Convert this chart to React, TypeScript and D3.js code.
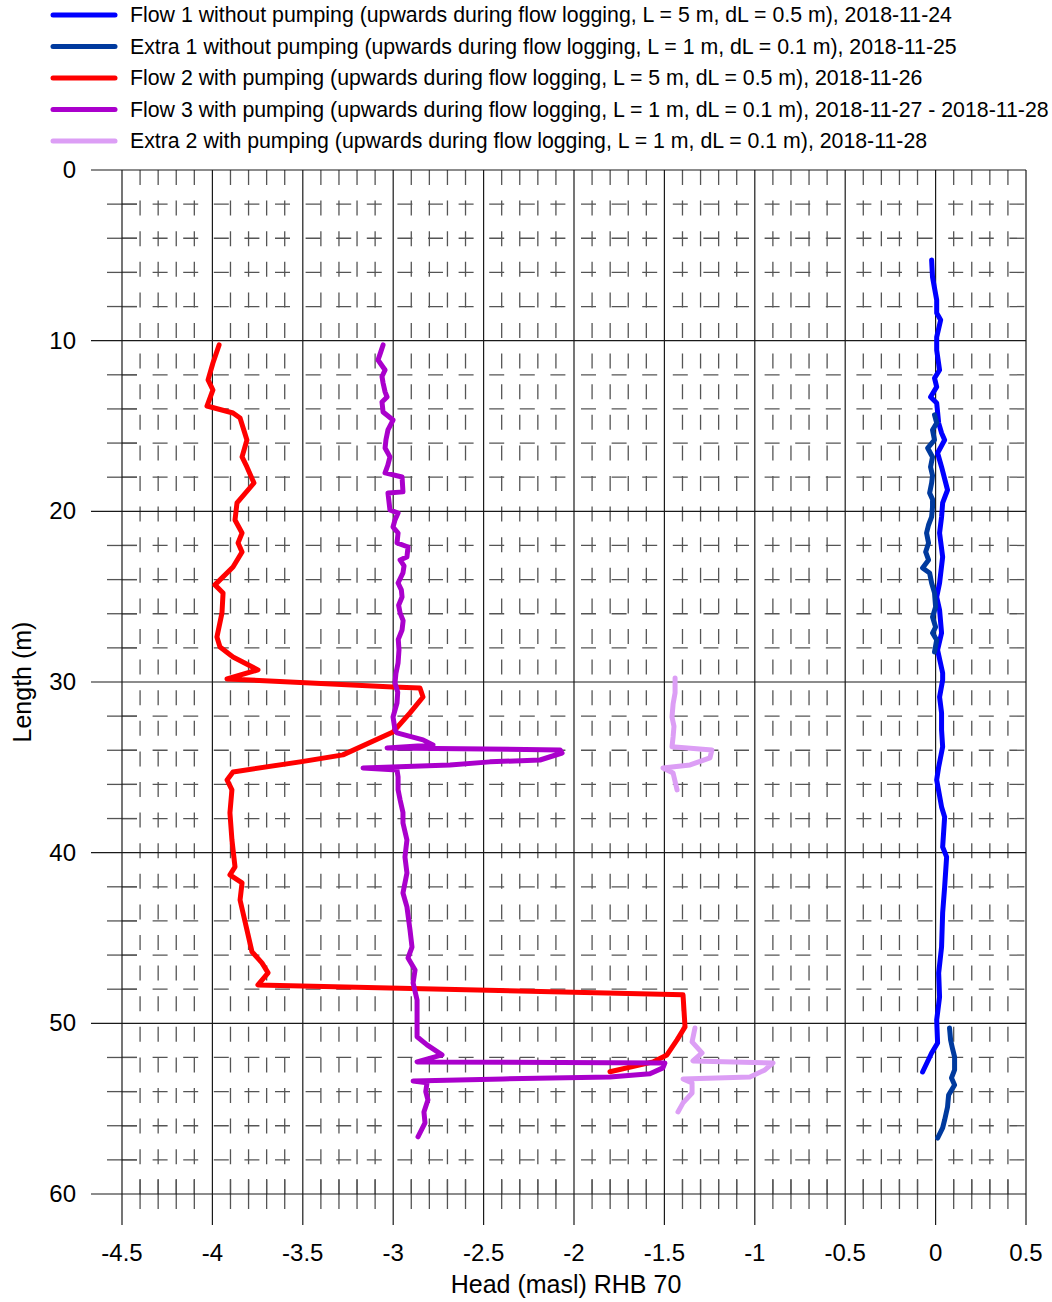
import React from 'react';
import * as d3 from 'd3';

// [length (m), head (masl)] ; null marks a gap between logging runs
type Pt = [number, number] | null;

const flow1: Pt[] = [
  [5.27, -0.022], [6.27, -0.017], [7.62, 0.006], [8.38, 0.006], [8.79, 0.028], [9.79, 0.006],
  [10.55, 0.006], [11.72, 0.022], [12.19, -0.006], [12.71, 0.006], [13.3, -0.028], [13.65, 0.006],
  [14.83, 0.017], [15.41, 0.033], [15.82, 0.05], [16.58, 0.011], [17.4, 0.033], [18.75, 0.066],
  [19.51, 0.039], [20.33, 0.033], [21.27, 0.022], [22.67, 0.039], [24.2, 0.022], [25.02, 0.006],
  [25.78, 0.022], [27.13, 0.033], [28.12, 0.011], [29.47, 0.039], [29.88, 0.039], [30.88, 0.022],
  [31.81, 0.033], [32.81, 0.033], [33.8, 0.039], [34.98, 0.017], [35.74, 0.006], [37.32, 0.033],
  [37.91, 0.05], [39.67, 0.039], [40.25, 0.061], [42.01, 0.05], [43.53, 0.039], [45.53, 0.033],
  [47.05, 0.017], [48.46, 0.022], [49.8, 0.006], [51.15, 0.011], [51.74, -0.022], [52.85, -0.072],
];

const extra1: Pt[] = [
  [14.35, -0.006], [14.82, 0.006], [15.23, -0.017], [15.82, -0.006], [16.29, -0.044], [16.82, -0.017],
  [17.4, -0.028], [17.9, -0.017], [18.34, -0.022], [18.92, -0.033], [19.3, -0.017], [19.75, -0.017],
  [20.33, -0.022], [20.8, -0.039], [21.27, -0.05], [21.85, -0.039], [22.38, -0.055], [22.85, -0.039],
  [23.32, -0.072], [23.61, -0.033], [24.2, -0.022], [24.78, -0.006], [25.6, 0.0], [26.19, -0.017],
  [26.78, 0.0], [27.13, -0.017], [27.54, 0.006], [28.24, -0.006],
  null,
  [50.27, 0.077], [50.98, 0.083], [51.5, 0.094], [51.97, 0.105], [52.73, 0.105], [53.2, 0.088],
  [53.61, 0.105], [54.2, 0.072], [54.9, 0.066], [55.66, 0.05], [56.13, 0.039], [56.72, 0.011],
];

const flow2: Pt[] = [
  [10.25, -3.963], [11.31, -3.997], [12.3, -4.024], [12.89, -3.997], [13.83, -4.03], [14.24, -3.886],
  [14.53, -3.847], [15.82, -3.809], [16.81, -3.836], [17.4, -3.809], [18.34, -3.77], [19.51, -3.864],
  [20.51, -3.875], [21.27, -3.836], [21.85, -3.858], [22.38, -3.836], [23.26, -3.886], [24.31, -3.986],
  [24.78, -3.941], [25.95, -3.947], [27.36, -3.975], [27.95, -3.958], [28.53, -3.886], [29.29, -3.748],
  [29.82, -3.919], [30.29, -3.001], [30.35, -2.852], [30.88, -2.835], [31.81, -2.907], [32.93, -3.001],
  [34.27, -3.278], [34.68, -3.515], [35.27, -3.886], [35.74, -3.919], [36.32, -3.892], [37.67, -3.903],
  [39.25, -3.892], [40.83, -3.875], [41.3, -3.903], [41.77, -3.836], [42.77, -3.847], [45.81, -3.781],
  [46.46, -3.726], [47.04, -3.692], [47.75, -3.748], [48.33, -1.397], [50.21, -1.386], [50.97, -1.43],
  [51.85, -1.486], [52.26, -1.563], [52.84, -1.801],
];

const flow3: Pt[] = [
  [10.25, -3.056], [10.7, -3.07], [11.13, -3.084], [11.72, -3.045], [12.1, -3.062], [12.48, -3.056],
  [13.0, -3.045], [13.3, -3.034], [13.59, -3.062], [14.18, -3.056], [14.65, -3.001], [15.23, -3.029],
  [15.8, -3.04], [16.29, -3.045], [16.81, -3.018], [17.3, -3.03], [17.75, -3.045], [17.99, -2.951],
  [18.86, -2.946], [18.92, -3.029], [19.92, -3.018], [20.1, -2.973], [20.5, -2.99], [20.92, -3.001],
  [21.27, -2.973], [21.85, -2.979], [22.09, -2.918], [22.67, -2.924], [22.85, -2.962], [23.2, -2.94],
  [23.61, -2.946], [24.2, -2.973], [24.6, -2.955], [25.02, -2.951], [25.5, -2.97], [25.95, -2.962],
  [26.4, -2.945], [26.95, -2.951], [27.5, -2.972], [28.12, -2.968], [28.88, -2.973], [29.5, -2.985],
  [30.05, -2.99], [30.6, -2.975], [31.23, -2.979], [32.05, -3.001], [32.81, -2.99], [32.98, -2.979],
  [33.39, -2.835], [33.69, -2.78], [33.86, -3.034], [33.98, -2.077], [34.16, -2.066], [34.57, -2.188],
  [34.68, -2.465], [34.86, -2.686], [35.04, -3.167], [35.15, -2.979], [35.56, -2.973], [36.32, -2.973],
  [36.9, -2.962], [37.65, -2.946], [38.26, -2.946], [39.26, -2.924], [40.25, -2.935], [41.19, -2.924],
  [42.36, -2.946], [43.18, -2.924], [44.53, -2.907], [45.53, -2.896], [46.17, -2.918], [46.87, -2.879],
  [47.63, -2.89], [48.63, -2.868], [49.98, -2.868], [50.79, -2.868], [51.26, -2.813], [51.85, -2.73],
  [52.26, -2.868], [52.32, -1.497], [52.61, -1.508], [52.96, -1.58], [53.14, -1.801], [53.26, -2.393],
  [53.38, -2.89], [53.49, -2.813], [54.0, -2.82], [54.49, -2.808], [55.2, -2.83], [55.83, -2.824],
  [56.65, -2.863],
];

const extra2: Pt[] = [
  [29.76, -1.441], [30.64, -1.441], [31.3, -1.452], [32.05, -1.458], [32.6, -1.447], [33.22, -1.452],
  [33.8, -1.458], [33.98, -1.237], [34.45, -1.248], [34.86, -1.358], [35.04, -1.508], [35.33, -1.452],
  [36.32, -1.43],
  null,
  [50.27, -1.331], [51.09, -1.347], [51.73, -1.292], [52.2, -1.342], [52.32, -0.899], [52.73, -0.944],
  [53.14, -1.027], [53.26, -1.397], [53.49, -1.347], [54.08, -1.347], [54.66, -1.397], [55.19, -1.425],
];

const seriesNames = [
  'Flow 1 without pumping (upwards during flow logging, L = 5 m, dL = 0.5 m), 2018-11-24',
  'Extra 1 without pumping (upwards during flow logging, L = 1 m, dL = 0.1 m), 2018-11-25',
  'Flow 2 with pumping (upwards during flow logging, L = 5 m, dL = 0.5 m), 2018-11-26',
  'Flow 3 with pumping (upwards during flow logging, L = 1 m, dL = 0.1 m), 2018-11-27 - 2018-11-28',
  'Extra 2 with pumping (upwards during flow logging, L = 1 m, dL = 0.1 m), 2018-11-28',
];
const seriesColors = ['#0000ff', '#003a9e', '#ff0000', '#aa00cc', '#dc9ef5'];
const seriesData = [flow1, extra1, flow2, flow3, extra2];

const xTicks = [-4.5, -4, -3.5, -3, -2.5, -2, -1.5, -1, -0.5, 0, 0.5];
const yTicks = [0, 10, 20, 30, 40, 50, 60];

const FONT = '"Liberation Sans", Arial, sans-serif';

export default function App() {
  const W = 1052;
  const H = 1302;
  const x = d3.scaleLinear().domain([-4.5, 0.5]).range([122, 1026]);
  const y = d3.scaleLinear().domain([0, 60]).range([170, 1194]);
  const [x0, x1] = x.range();
  const [y0, y1] = y.range();

  // minor positions: every 0.1 on head axis, every 2 m on length axis
  const xMinor = d3.range(-45, 6).filter(i => i % 5 !== 0).map(i => i / 10);
  const yMinor = d3.range(0, 61, 2).filter(v => v % 10 !== 0);

  const line = d3.line<Pt>()
    .defined(d => d !== null)
    .x(d => x((d as [number, number])[1]))
    .y(d => y((d as [number, number])[0]));

  const dash = '15,15.6';
  const minorColor = '#555';
  const majorColor = '#1a1a1a';

  return (
    <svg width={W} height={H} style={{ position: 'absolute', left: 0, top: 0, background: '#fff' }}
      fontFamily={FONT}>
      {/* minor grid */}
      <g stroke={minorColor} strokeWidth={1.3} fill="none">
        {xMinor.map(v => (
          <g key={'xm' + v}>
            <line x1={x(v)} x2={x(v)} y1={y0} y2={y1} strokeDasharray={dash} />
            <line x1={x(v)} x2={x(v)} y1={y1 - 15} y2={y1 + 15} />
          </g>
        ))}
        {yMinor.map(v => (
          <g key={'ym' + v}>
            <line x1={x0} x2={x1} y1={y(v)} y2={y(v)} strokeDasharray={dash} />
            <line x1={x0 - 15} x2={x0 + 15} y1={y(v)} y2={y(v)} />
          </g>
        ))}
      </g>
      {/* major grid */}
      <g stroke={majorColor} strokeWidth={1.2}>
        {xTicks.map(v => (
          <line key={'xM' + v} x1={x(v)} x2={x(v)} y1={y0} y2={y1 + 31} />
        ))}
        {yTicks.map(v => (
          <line key={'yM' + v} x1={x0 - 31} x2={x1} y1={y(v)} y2={y(v)} />
        ))}
      </g>
      {/* series */}
      <g fill="none" strokeWidth={5} strokeLinejoin="round" strokeLinecap="round">
        {seriesData.map((s, i) => (
          <path key={'s' + i} d={line(s) || ''} stroke={seriesColors[i]} />
        ))}
      </g>
      {/* tick labels */}
      <g fontSize={24} fill="#000">
        {xTicks.map(v => (
          <text key={'xl' + v} x={x(v)} y={1261} textAnchor="middle">{String(v)}</text>
        ))}
        {yTicks.map(v => (
          <text key={'yl' + v} x={76} y={y(v) + 8} textAnchor="end">{String(v)}</text>
        ))}
      </g>
      <text x={566} y={1293} textAnchor="middle" fontSize={25}>Head (masl) RHB 70</text>
      <text transform={`translate(31,${(y0 + y1) / 2}) rotate(-90)`} textAnchor="middle" fontSize={25}>
        Length (m)
      </text>
      {/* legend */}
      <g>
        {seriesNames.map((n, i) => {
          const cy = 15 + i * 31.5;
          return (
            <g key={'lg' + i}>
              <line x1={53} x2={115} y1={cy} y2={cy} stroke={seriesColors[i]} strokeWidth={5}
                strokeLinecap="round" />
              <text x={130} y={cy + 7} fontSize={21.3} fill="#000">{n}</text>
            </g>
          );
        })}
      </g>
    </svg>
  );
}
